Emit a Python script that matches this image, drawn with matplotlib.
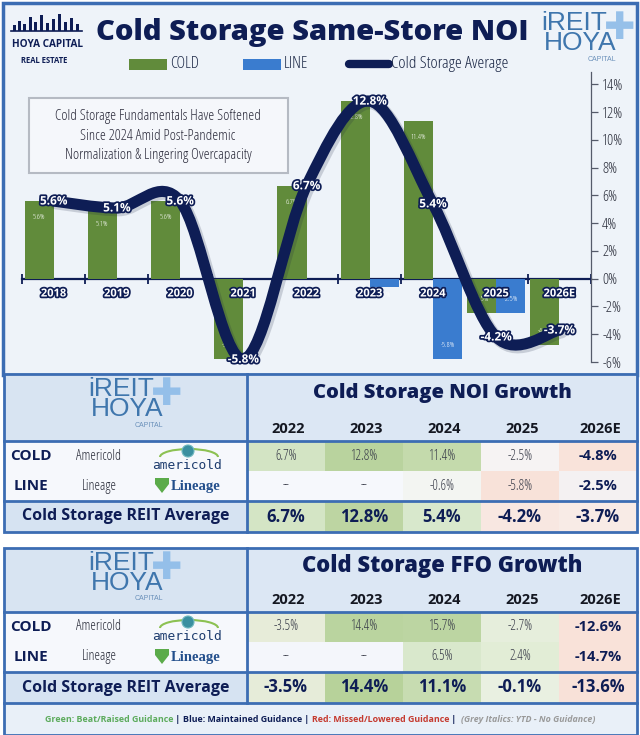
import numpy as np
import matplotlib
matplotlib.use("Agg")
from matplotlib import pyplot as plt
from matplotlib import patheffects as pe
from matplotlib.path import Path
from matplotlib.patches import PathPatch, Rectangle, Circle, Arc, Polygon

# ---- chart data ----
years = ["2018", "2019", "2020", "2021", "2022", "2023", "2024", "2025", "2026E"]
cold_noi = [5.6, 5.1, 5.6, -5.8, 6.7, 12.8, 11.4, -2.5, -4.8]
line_noi = [np.nan, np.nan, np.nan, np.nan, np.nan, -0.6, -5.8, -2.5, np.nan]
avg_noi = [5.6, 5.1, 5.6, -5.8, 6.7, 12.8, 5.4, -4.2, -3.7]
y_ticks = list(range(-6, 15, 2))

# ---- table data ----
table_years = ["2022", "2023", "2024", "2025", "2026E"]
noi_cold = [6.7, 12.8, 11.4, -2.5, -4.8]
noi_line = [None, None, -0.6, -5.8, -2.5]
noi_avg = [6.7, 12.8, 5.4, -4.2, -3.7]
ffo_cold = [-3.5, 14.4, 15.7, -2.7, -12.6]
ffo_line = [None, None, 6.5, 2.4, -14.7]
ffo_avg = [-3.5, 14.4, 11.1, -0.1, -13.6]

# cell shading (heat map colours)
noi_colors = [
    ["#d3e4c4", "#b9d39e", "#c4daac", "#f6f3f3", "#f9e3da"],
    ["#f6f8fc", "#f6f8fc", "#f3f5f2", "#f8e2d9", "#f4f1f2"],
    ["#d4e5c5", "#bdd5a2", "#d8e8cc", "#f8e7e1", "#f8ebe6"],
]
ffo_colors = [
    ["#e7ecd9", "#bad49f", "#bcd5a2", "#e6eedc", "#f9e2d9"],
    ["#f4f6fb", "#f4f6fb", "#d9e8cc", "#e2edd6", "#f9e2d9"],
    ["#e6ecd9", "#b7d29a", "#c7dcb1", "#e9f0e1", "#f8e1d8"],
]

NAVY = "#0e1d55"
GREEN = "#618b3b"
BLUE = "#3a7ccf"
BORDER = "#3c6db3"
LOGO_BLUE = "#3f76ad"
COND = dict(family="Open Sans", stretch="condensed")

fig = plt.figure(figsize=(6.4, 7.35), dpi=100)
bg = fig.add_axes([0, 0, 1, 1])
bg.set_xlim(0, 640)
bg.set_ylim(735, 0)
bg.axis("off")


def ireit_logo(cx, cy):
    # cx, cy = centre of the word HOYA
    bg.text(cx + 40, cy - 14, "\u271a", fontsize=27, color="#8dbbe8", family="DejaVu Sans",
            ha="center", va="center", alpha=0.9)
    bg.text(cx - 6, cy - 20, "iREIT", fontsize=19, color=LOGO_BLUE, family="Liberation Sans",
            ha="center", va="center")
    bg.text(cx, cy, "HOYA", fontsize=19, color=LOGO_BLUE, family="Liberation Sans",
            ha="center", va="center")
    bg.text(cx + 22, cy + 16, "CAPITAL", fontsize=5, color="#6a90ba", family="Liberation Sans",
            ha="center", va="center")


# ---- chart panel ----
bg.add_patch(Rectangle((3, 3), 634, 372, fc="#eef3f9", ec=BORDER, lw=2.5, zorder=0))

# hoya capital logo
sky = [(13, 6), (18, 10), (23, 7), (29, 14), (34, 9), (40, 16), (46, 8), (52, 12), (58, 17), (64, 9), (70, 13), (76, 7)]
for sx, sh in sky:
    bg.add_patch(Rectangle((sx, 31 - sh), 3, sh, fc=NAVY, ec="none"))
bg.plot([11, 82], [31, 31], color=NAVY, lw=1.2)
bg.text(47, 44, "HOYA CAPITAL", fontsize=7.2, fontweight="bold", color=NAVY, ha="center", va="center", **COND)
bg.text(44, 60, "REAL ESTATE", fontsize=5.5, fontweight="bold", color=NAVY, ha="center", va="center", **COND)

ireit_logo(580, 43)

bg.text(312, 32, "Cold Storage Same-Store NOI", fontsize=21, fontweight=800, color=NAVY,
        ha="center", va="center", **COND)

# legend
bg.add_patch(Rectangle((129, 59), 38, 11, fc=GREEN, ec="none"))
bg.text(170, 64, "COLD", fontsize=12, color="#1e2a48", ha="left", va="center", **COND)
bg.add_patch(Rectangle((243, 59), 38, 11, fc=BLUE, ec="none"))
bg.text(284, 64, "LINE", fontsize=12, color="#1e2a48", ha="left", va="center", **COND)
bg.plot([349, 389], [64, 64], color=NAVY, lw=6, solid_capstyle="round")
bg.text(391, 64, "Cold Storage Average", fontsize=12.5, color="#1e2a48", ha="left", va="center", **COND)

# note box
bg.add_patch(Rectangle((29, 98), 259, 75, fc="#f5f7fb", ec="#b5bac3", lw=1.5, zorder=1))
bg.text(158, 136, "Cold Storage Fundamentals Have Softened\nSince 2024 Amid Post-Pandemic\n"
        "Normalization & Lingering Overcapacity", fontsize=10.8, linespacing=1.4, color="#2d2d3d",
        ha="center", va="center", zorder=2, **COND)

# chart axes
ax = fig.add_axes([22 / 640, 1 - 362 / 735, (591 - 22) / 640, (362 - 72) / 735])
ax.patch.set_alpha(0)
ax.set_zorder(3)
x = np.arange(len(years))
w = 0.46
ax.bar(x - w / 2, cold_noi, w, color=GREEN, zorder=2)
ax.bar(x + w / 2, line_noi, w, color=BLUE, zorder=2)
ax.set_xlim(-0.5, len(years) - 0.5)
ax.set_ylim(-6, 14.9)

for xs, vals in ((x - w / 2, cold_noi), (x + w / 2, line_noi)):
    for xi, v in zip(xs, vals):
        if np.isnan(v):
            continue
        if v >= 0:
            off = -12
        elif v > -2:
            off = -6
        else:
            off = 10
        ax.annotate(f"{v:.1f}%", (xi, v), xytext=(0, off), textcoords="offset points",
                    ha="center", va="center", fontsize=5.5, color="white", zorder=3, **COND)

# smoothed average line (Catmull-Rom as cubic Bezier)
pts = np.column_stack([x, avg_noi]).astype(float)
ext = np.vstack([pts[0], pts, pts[-1]])
verts = [pts[0]]
codes = [Path.MOVETO]
for i in range(len(pts) - 1):
    p0, p1, p2, p3 = ext[i], ext[i + 1], ext[i + 2], ext[i + 3]
    verts += [p1 + (p2 - p0) / 6, p2 - (p3 - p1) / 6, p2]
    codes += [Path.CURVE4] * 3
curve = Path(verts, codes)
shadow = PathPatch(curve, fill=False, ec="#1a2340", lw=9, alpha=0.18, capstyle="round", zorder=3.5)
shadow.set_transform(ax.transData + matplotlib.transforms.ScaledTranslation(1.5 / 72, -1.5 / 72, fig.dpi_scale_trans))
ax.add_patch(shadow)
ax.add_patch(PathPatch(curve, fill=False, ec=NAVY, lw=8, capstyle="round", joinstyle="round", zorder=4))

lab_fx = [pe.withStroke(linewidth=2.5, foreground=NAVY)]
for xi, v in zip(x, avg_noi):
    ax.annotate(f"{v:.1f}%", (xi, v), ha="center", va="center", fontsize=8.5, fontweight="bold",
                color="white", zorder=6, path_effects=lab_fx, **COND)
for xi, yr in zip(x, years):
    ax.annotate(yr, (xi, 0), xytext=(0, -11), textcoords="offset points", ha="center", va="center",
                fontsize=8, fontweight="bold", color="white", zorder=5, path_effects=lab_fx, **COND)

for s in ("top", "left"):
    ax.spines[s].set_visible(False)
ax.spines["bottom"].set_position(("data", 0))
ax.spines["bottom"].set_color(NAVY)
ax.spines["bottom"].set_linewidth(1.6)
ax.spines["bottom"].set_zorder(1)
ax.spines["right"].set_color("#555b6a")
ax.spines["right"].set_linewidth(0.9)
ax.set_xticks(np.arange(-0.5, len(years), 1))
ax.set_xticklabels([])
ax.tick_params(axis="x", direction="inout", length=7, width=1.3, color=NAVY)
ax.yaxis.tick_right()
ax.set_yticks(y_ticks)
ax.set_yticklabels([f"{t}%" for t in y_ticks], fontsize=11, color="#2b2e3b", **COND)
ax.tick_params(axis="y", length=5, width=0.9, color="#555b6a", pad=3)


# ---- tables ----
COL_X0, COL_W = 247, 78
L, R = 4, 637


def draw_table(top, head_h, title, title_size, cold, line, avg, colors, foot=False):
    r1 = top + head_h
    r2 = r1 + 30
    r3 = r2 + 30
    r4 = r3 + 31
    bottom = r4 + (32 if foot else 0)
    bg.add_patch(Rectangle((L, top), COL_X0 - L, head_h, fc="#d8e4f2", ec="none"))
    bg.add_patch(Rectangle((COL_X0, top), R - COL_X0, head_h, fc="#dce7f4", ec="none"))
    bg.add_patch(Rectangle((L, r1), COL_X0 - L, r3 - r1, fc="#f6f8fc", ec="none"))
    bg.add_patch(Rectangle((L, r3), COL_X0 - L, r4 - r3, fc="#d6e3f2", ec="none"))
    if foot:
        bg.add_patch(Rectangle((L, r4), R - L, bottom - r4, fc="#e9f0f8", ec="none"))
    rows = [(cold, r1, r2, False), (line, r2, r3, False), (avg, r3, r4, True)]
    for ri, (vals, ya, yb, is_avg) in enumerate(rows):
        for ci, v in enumerate(vals):
            cx0 = COL_X0 + ci * COL_W
            bg.add_patch(Rectangle((cx0, ya), COL_W if ci < 4 else R - cx0, yb - ya,
                                   fc=colors[ri][ci], ec="none"))
            txt = "--" if v is None else f"{v:.1f}%"
            if is_avg:
                kw = dict(fontsize=12, fontweight="bold", color=NAVY)
            elif ci == 4:
                kw = dict(fontsize=10.5, fontweight="bold", color=NAVY)
            else:
                kw = dict(fontsize=9.8, color="#3a3d4a")
            bg.text(cx0 + COL_W / 2, (ya + yb) / 2, txt, ha="center", va="center", **kw, **COND)
    # grid lines
    bg.add_patch(Rectangle((L, top), R - L, bottom - top, fill=False, ec=BORDER, lw=2))
    for yy in (r1, r3) + ((r4,) if foot else ()):
        bg.plot([L, R], [yy, yy], color=BORDER, lw=2)
    bg.plot([COL_X0, COL_X0], [top, r4], color=BORDER, lw=2)
    # header
    bg.text((COL_X0 + R) / 2, top + head_h * 0.28, title, fontsize=title_size, fontweight=800,
            color=NAVY, ha="center", va="center", **COND)
    for ci, yr in enumerate(table_years):
        bg.text(COL_X0 + ci * COL_W + COL_W / 2 + 2, r1 - 12, yr, fontsize=10.5, fontweight="bold",
                color="#151822", ha="center", va="center", **COND)
    ireit_logo(127, top + 35)
    # row labels and company marks
    c1, c2 = (r1 + r2) / 2, (r2 + r3) / 2
    bg.text(31, c1, "COLD", fontsize=11, fontweight="bold", color=NAVY, ha="center", va="center", **COND)
    bg.text(99, c1, "Americold", fontsize=10, color="#2a2d3a", ha="center", va="center", **COND)
    bg.text(31, c2, "LINE", fontsize=11, fontweight="bold", color=NAVY, ha="center", va="center", **COND)
    bg.text(99, c2, "Lineage", fontsize=10, color="#2a2d3a", ha="center", va="center", **COND)
    bg.text(126, (r3 + r4) / 2, "Cold Storage REIT Average", fontsize=11.5, fontweight="bold",
            color=NAVY, ha="center", va="center", **COND)
    bg.add_patch(Arc((189, c1 + 1), 58, 16, theta1=180, theta2=360, color="#8cc152", lw=1.5))
    bg.add_patch(Circle((188, c1 - 5), 6, fc="#3a8fa0", ec="#6fb8c0", lw=0.8))
    bg.text(187, c1 + 9, "americold", fontsize=9.3, color="#1d3c6e", family="DejaVu Sans Mono",
            ha="center", va="center")
    bg.add_patch(Polygon([(155, c2 - 8), (169, c2 - 8), (169, c2 - 2), (162, c2 + 7), (155, c2 - 2)],
                         closed=True, fc="#5bab4a", ec="none"))
    bg.text(196, c2, "Lineage", fontsize=10.5, fontweight="bold", color="#234f8c",
            family="Liberation Serif", ha="center", va="center")
    return r4, bottom


draw_table(374, 67, "Cold Storage NOI Growth", 14.5, noi_cold, noi_line, noi_avg, noi_colors)
r4, bottom = draw_table(548, 64, "Cold Storage FFO Growth", 15.8, ffo_cold, ffo_line, ffo_avg, ffo_colors, foot=True)

# footnote with coloured pieces
pieces = [
    ("Green: Beat/Raised Guidance", "#5cab5c", "normal"),
    (" | ", NAVY, "normal"),
    ("Blue: Maintained Guidance", NAVY, "normal"),
    (" | ", NAVY, "normal"),
    ("Red: Missed/Lowered Guidance", "#c53a2f", "normal"),
    (" |  ", NAVY, "normal"),
    ("(Grey Italics: YTD - No Guidance)", "#9a9a9a", "italic"),
]
renderer = fig.canvas.get_renderer()
fy = (r4 + bottom) / 2
texts = []
cur = 0.0
for s, col, sty in pieces:
    t = bg.text(cur, fy, s, fontsize=6.4, fontweight="bold", color=col, style=sty,
                ha="left", va="center", **COND)
    wpx = t.get_window_extent(renderer).width
    texts.append((t, cur))
    cur += wpx
start = 320 - cur / 2
for t, pos in texts:
    t.set_x(start + pos)

fig.savefig("out.png", dpi=100)
